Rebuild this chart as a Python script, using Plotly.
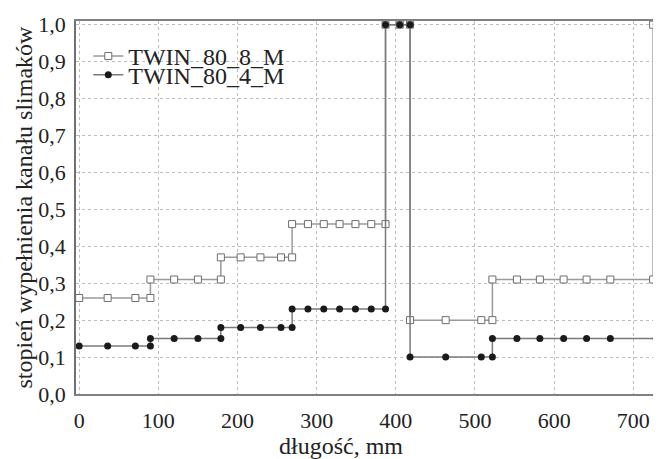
import plotly.graph_objects as go

# --- data ---
series_8_name = "TWIN_80_8_M"
series_8_x = [0, 36, 71, 90, 90, 120, 150, 179, 179, 204, 229, 255, 269,
              269, 289, 309, 329, 349, 369, 387, 387, 405, 418,
              418, 463, 508, 522, 522, 553, 582, 612, 641, 671, 725, 725]
series_8_y = ([0.26] * 4 + [0.31] * 4 + [0.37] * 5 + [0.46] * 7 +
              [1.0] * 3 + [0.20] * 4 + [0.31] * 7 + [1.0])

series_4_name = "TWIN_80_4_M"
series_4_x = [0, 36, 71, 90, 90, 120, 150, 179, 179, 204, 229, 255, 269,
              269, 289, 309, 329, 349, 369, 387, 387, 405, 418,
              418, 463, 508, 522, 522, 553, 582, 612, 641, 671, 729, 729]
series_4_y = ([0.13] * 4 + [0.15] * 4 + [0.18] * 5 + [0.23] * 7 +
              [1.0] * 3 + [0.10] * 4 + [0.15] * 7 + [1.0])

x_ticks = [0, 100, 200, 300, 400, 500, 600, 700]
y_ticks = [0.0, 0.1, 0.2, 0.3, 0.4, 0.5, 0.6, 0.7, 0.8, 0.9, 1.0]
x_title = "długość, mm"
y_title = "stopień wypełnienia kanału slimaków"

FONT = "Liberation Serif, Times New Roman, serif"

fig = go.Figure()
fig.add_trace(go.Scatter(
    x=series_8_x, y=series_8_y, name=series_8_name, mode="lines+markers",
    line=dict(color="#9a9a9a", width=1.5),
    marker=dict(symbol="square", size=7, color="white",
                line=dict(color="#6e6e6e", width=1)),
    legend="legend", cliponaxis=False,
))
fig.add_trace(go.Scatter(
    x=series_4_x, y=series_4_y, name=series_4_name, mode="lines+markers",
    line=dict(color="#7a7a7a", width=1.5),
    marker=dict(symbol="circle", size=7, color="#1a1a1a",
                line=dict(color="#1a1a1a", width=0)),
    legend="legend2", cliponaxis=False,
))

legend_common = dict(
    font=dict(family=FONT, size=24, color="#222222"),
    bgcolor="rgba(0,0,0,0)", borderwidth=0,
    xanchor="left", yanchor="middle", itemwidth=30,
    tracegroupgap=0,
)

# the page body keeps its default 8px margin, so the figure is 8px smaller
fig.update_layout(
    width=653, height=451,
    margin=dict(l=68, r=0, t=13, b=65, pad=0, autoexpand=False),
    paper_bgcolor="white", plot_bgcolor="white",
    separators=", ",
    font=dict(family=FONT, size=22, color="#222222"),
    showlegend=True,
    legend=dict(x=0.021, y=0.905, **legend_common),
    legend2=dict(x=0.021, y=0.855, **legend_common),
    xaxis=dict(
        range=[-4, 735], tickvals=x_ticks, ticks="", automargin=False,
        showgrid=True, gridcolor="#bdbdbd", griddash="dot", gridwidth=1,
        zeroline=False, showline=True, linecolor="#808080", linewidth=1.5,
        mirror=True, tickfont=dict(family=FONT, size=22, color="#222222"),
        ticklabelstandoff=6,
    ),
    yaxis=dict(
        range=[0, 1.01], tickvals=y_ticks, tickformat=".1f", ticks="",
        automargin=False,
        showgrid=True, gridcolor="#bdbdbd", griddash="dot", gridwidth=1,
        zeroline=False, showline=True, linecolor="#707070", linewidth=1.5,
        mirror=True, tickfont=dict(family=FONT, size=22, color="#222222"),
        ticklabelstandoff=4,
    ),
    annotations=[
        dict(text=x_title, xref="paper", yref="paper", x=0.453, y=0,
             xanchor="center", yanchor="middle", yshift=-52, showarrow=False,
             font=dict(family=FONT, size=24, color="#222222")),
        dict(text=y_title, xref="paper", yref="paper", x=0, y=0.5,
             xanchor="center", yanchor="middle", xshift=-53, textangle=-90,
             showarrow=False,
             font=dict(family=FONT, size=24, color="#222222")),
    ],
)

fig.write_html("out.html")
